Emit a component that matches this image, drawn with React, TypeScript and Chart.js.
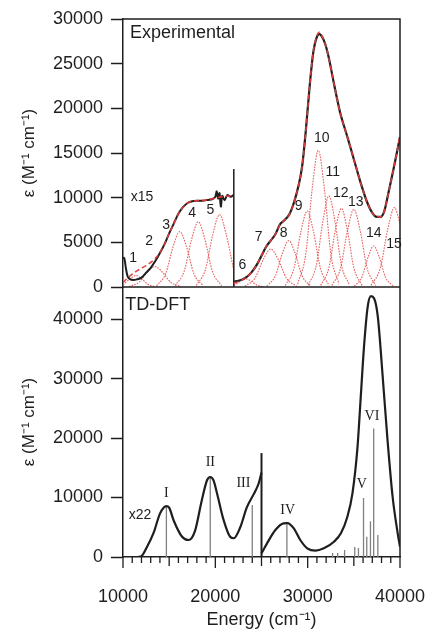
import React, { useEffect, useRef } from "react";
import { Chart, registerables } from "chart.js";

Chart.register(...registerables);

// ---------- Top panel: experimental spectrum ----------
// x15 region (left of the break at 22000)
const expLeftE = [10000, 10150, 10300, 10500, 10800, 11100, 11500, 12000, 12500, 13000, 13500, 14000, 14500, 15000, 15500, 16000, 16500, 17000, 17500, 18000, 18600, 19200, 19700, 20000, 20150, 20300, 20450, 20600, 20750, 21000, 21300, 21650, 22000];
const expLeftV = [3300, 3200, 2200, 1200, 850, 780, 850, 1050, 1600, 2150, 2900, 3800, 4800, 6000, 7100, 8200, 8950, 9400, 9600, 9650, 9650, 9750, 9850, 10100, 10700, 9900, 10500, 9000, 10200, 9700, 10300, 10100, 10300];
const fitLeftE = [10000, 10500, 11000, 11500, 12000, 12500, 13000, 13500, 14000, 14500, 15000, 15500, 16000, 16500, 17000, 17500, 18000, 18600, 19200, 19800, 20400, 21000, 21600, 22000];
const fitLeftV = [500, 1000, 1450, 1800, 2100, 2400, 2750, 3200, 3850, 4800, 6000, 7100, 8200, 8950, 9400, 9600, 9650, 9700, 9750, 9900, 10050, 10150, 10200, 10250];
// unscaled region
const expRightE = [22000, 22500, 23000, 23500, 24000, 24500, 25000, 25500, 26000, 26500, 27000, 27500, 28000, 28500, 29000, 29400, 29800, 30200, 30600, 31000, 31250, 31500, 31900, 32300, 32800, 33500, 34300, 35000, 35700, 36400, 37000, 37500, 37900, 38300, 38700, 39300, 40000];
const expRightV = [600, 700, 880, 1200, 1750, 2500, 3500, 4500, 5200, 5900, 7000, 7500, 8100, 9400, 11300, 13500, 17500, 22300, 26200, 28000, 28300, 28100, 27200, 25600, 23000, 19600, 16800, 14300, 11800, 9600, 8300, 7850, 7850, 8500, 10300, 13200, 16800];
const fitRightE = [22000, 22500, 23000, 23500, 24000, 24500, 25000, 25500, 26000, 26500, 27000, 27500, 28000, 28500, 29000, 29400, 29800, 30200, 30600, 31000, 31250, 31500, 31900, 32300, 32800, 33500, 34300, 35000, 35700, 36400, 37000, 37500, 37900, 38300, 38700, 39300, 40000];
const fitRightV = [400, 600, 850, 1200, 1750, 2500, 3500, 4500, 5200, 5900, 7000, 7500, 8100, 9400, 11300, 13500, 17500, 22300, 26300, 28100, 28500, 28200, 27200, 25600, 23000, 19600, 16800, 14300, 11800, 9600, 8300, 7850, 7850, 8500, 10300, 13200, 16900];
// fitted components 1..15
const bandE = [
  [10000, 10800, 11400, 12000, 12675, 13500],
  [10650, 11750, 12650, 13450, 14250, 15150, 16250],
  [13630, 14620, 15430, 16150, 16870, 17680, 18670],
  [15630, 16620, 17430, 18150, 18870, 19680, 20670],
  [17930, 18920, 19730, 20450, 21170, 22000],
  [22000, 22740, 23300, 23860, 24490, 25260],
  [23200, 24300, 25200, 26000, 26800, 27700, 28800],
  [25570, 26505, 27270, 27950, 28630, 29395, 30330],
  [27570, 28505, 29270, 29950, 30630, 31395, 32330],
  [28910, 29790, 30510, 31150, 31790, 32510, 33390],
  [30060, 30940, 31660, 32300, 32940, 33660, 34540],
  [31410, 32290, 33010, 33650, 34290, 35010, 35890],
  [32620, 33555, 34320, 35000, 35680, 36445, 37380],
  [35050, 35875, 36550, 37150, 37750, 38425, 39250],
  [36880, 37870, 38680, 39400, 40000],
];
const bandV = [
  [230, 950, 1300, 950, 310, 26],
  [46, 550, 1680, 2300, 1680, 550, 46],
  [124, 1490, 4530, 6200, 4530, 1490, 124],
  [146, 1750, 5330, 7300, 5330, 1750, 146],
  [162, 1940, 5910, 8100, 5910, 1840],
  [160, 660, 900, 660, 215, 18],
  [85, 1000, 3100, 4250, 3100, 1000, 85],
  [104, 1250, 3800, 5200, 3800, 1250, 104],
  [170, 2040, 6200, 8500, 6200, 2040, 170],
  [306, 3670, 11170, 15300, 11170, 3670, 306],
  [204, 2450, 7450, 10200, 7450, 2450, 204],
  [176, 2110, 6420, 8800, 6420, 2110, 176],
  [174, 2090, 6350, 8700, 6350, 2090, 174],
  [92, 1100, 3360, 4600, 3360, 1100, 92],
  [178, 2140, 6500, 8900, 7120],
];
const bandLabelText = ["1", "2", "3", "4", "5", "6", "7", "8", "9", "10", "11", "12", "13", "14", "15"];
const bandLabelE = [11090, 12830, 14680, 17500, 19460, 22940, 24680, 27400, 29030, 31530, 32720, 33590, 35220, 37170, 39350];
const bandLabelV = [3250, 5150, 6940, 8280, 8620, 2460, 5600, 6050, 9070, 16680, 12870, 10520, 9510, 6050, 4810];
const topBreakE = [22000, 22000];
const topBreakV = [0, 13200];

// ---------- Bottom panel: TD-DFT ----------
const dftLeftE = [10000, 11500, 12000, 12600, 13300, 14000, 14400, 14700, 15000, 15500, 16400, 17100, 17800, 18500, 19100, 19450, 19800, 20200, 20900, 21600, 22000, 22700, 23400, 24200, 24700, 25000];
const dftLeftV = [0, 0, 150, 1700, 4000, 7300, 8300, 8570, 8300, 6100, 3400, 2860, 4400, 9300, 12900, 13450, 12900, 10600, 6200, 3400, 3150, 5000, 8300, 10700, 12400, 14200];
const dftRightE = [25000, 25600, 26500, 27400, 27800, 28500, 29200, 29950, 30850, 31750, 32850, 33600, 34300, 34850, 35400, 35750, 36100, 36500, 36850, 37200, 37600, 38100, 38650, 39200, 39750, 40000];
const dftRightV = [620, 2300, 4540, 5660, 5700, 4820, 2860, 1460, 1060, 1460, 2570, 3980, 6770, 10700, 18530, 26930, 35330, 42050, 43850, 43460, 40370, 30860, 19660, 10130, 3980, 1730];
const stickE = [14700, 19450, 24000, 27750, 32700, 33250, 34000, 35100, 35500, 36050, 36400, 36800, 37150, 37600];
const stickV = [8570, 13450, 8740, 5500, 670, 670, 1180, 1700, 1500, 9900, 3400, 6000, 21600, 3700];
const romanText = ["I", "II", "III", "IV", "V", "VI"];
const romanE = [14680, 19460, 23040, 27830, 35870, 36960];
const romanV = [10750, 15960, 12430, 7900, 12260, 23690];
const botBreakE = [25000, 25000];
const botBreakV = [0, 17470];

// axis ranges / tick values
const xMin = 10000, xMax = 40000, xMinorStep = 1000;
const xTickValues = [10000, 20000, 30000, 40000];
const topMax = 30000;
const topTickValues = [0, 5000, 10000, 15000, 20000, 25000, 30000];
const botMax = 45400;
const botTickValues = [0, 10000, 20000, 30000, 40000];

const INK = "#1e1e1e";
const SANS = "'Liberation Sans', Arial, sans-serif";
const SERIF = "'Liberation Serif', 'Times New Roman', serif";

const pts = (E: number[], V: number[]) => E.map((e, i) => ({ x: e, y: V[i] }));

const annotPlugin = {
  id: "annot",
  afterDraw(chart: any) {
    const { ctx } = chart;
    const x = chart.scales.x, yt = chart.scales.yTop, yb = chart.scales.yBot;
    ctx.save();
    ctx.strokeStyle = INK;
    ctx.lineWidth = 1.5;
    ctx.beginPath();
    ctx.moveTo(x.left, yt.top);
    ctx.lineTo(x.right, yt.top);
    ctx.lineTo(x.right, yb.bottom);
    ctx.moveTo(x.left, yt.bottom);
    ctx.lineTo(x.right, yt.bottom);
    ctx.stroke();
    // x ticks (outward)
    ctx.lineWidth = 1.3;
    ctx.beginPath();
    for (let v = xMin; v <= xMax; v += xMinorStep) {
      const px = x.getPixelForValue(v);
      const len = v % 10000 === 0 ? 11 : v % 5000 === 0 ? 9 : 6;
      ctx.moveTo(px, yb.bottom);
      ctx.lineTo(px, yb.bottom + len);
    }
    ctx.stroke();
    // texts
    ctx.fillStyle = INK;
    ctx.textBaseline = "middle";
    ctx.textAlign = "left";
    ctx.font = `18px ${SANS}`;
    ctx.fillText("Experimental", x.getPixelForValue(10760), yt.getPixelForValue(28430));
    ctx.fillText("TD-DFT", x.getPixelForValue(10250), yb.getPixelForValue(42340));
    ctx.textAlign = "center";
    ctx.font = `14px ${SANS}`;
    ctx.fillText("x15", x.getPixelForValue(12070), yt.getPixelForValue(10075));
    ctx.fillText("x22", x.getPixelForValue(11850), yb.getPixelForValue(7060));
    bandLabelText.forEach((t, i) => {
      ctx.fillText(t, x.getPixelForValue(bandLabelE[i]), yt.getPixelForValue(bandLabelV[i]));
    });
    ctx.font = `14px ${SERIF}`;
    romanText.forEach((t, i) => {
      ctx.fillText(t, x.getPixelForValue(romanE[i]), yb.getPixelForValue(romanV[i]));
    });
    ctx.restore();
  },
};

export default function App() {
  const ref = useRef<HTMLCanvasElement>(null);
  useEffect(() => {
    const red = "rgba(226,60,60,0.95)";
    const bandSets = bandE.map((E, i) => ({
      data: pts(E, bandV[i]),
      yAxisID: "yTop",
      borderColor: "rgba(228,80,80,0.9)",
      borderWidth: 1.1,
      borderDash: [1.6, 1.2],
      pointRadius: 0,
      cubicInterpolationMode: "monotone",
      fill: false,
    }));
    const sticks: any[] = [];
    stickE.forEach((e, i) => {
      sticks.push({ x: e, y: 0 }, { x: e, y: stickV[i] }, { x: e, y: null });
    });
    const line = (data: any, yAxisID: string, extra: any) => ({
      data,
      yAxisID,
      pointRadius: 0,
      fill: false,
      ...extra,
    });
    const setTicks = (vals: number[]) => (s: any) => {
      s.ticks = vals.map((v) => ({ value: v }));
    };
    const fitY = (s: any) => {
      s.width = 123;
      s.paddingTop = 0;
      s.paddingBottom = 0;
    };
    const chart = new Chart(ref.current!, {
      type: "line",
      data: {
        datasets: [
          line(pts(fitLeftE, fitLeftV), "yTop", { borderColor: red, borderWidth: 1.6, borderDash: [5, 3], cubicInterpolationMode: "monotone" }),
          line(pts(fitRightE, fitRightV), "yTop", { borderColor: red, borderWidth: 1.6, borderDash: [5, 3], cubicInterpolationMode: "monotone" }),
          line(pts(expLeftE, expLeftV), "yTop", { borderColor: INK, borderWidth: 2, tension: 0.3 }),
          line(pts(expRightE, expRightV), "yTop", { borderColor: INK, borderWidth: 2.2, cubicInterpolationMode: "monotone" }),
          line(pts(topBreakE, topBreakV), "yTop", { borderColor: INK, borderWidth: 1.5 }),
          ...bandSets,
          line(pts(dftLeftE, dftLeftV), "yBot", { borderColor: INK, borderWidth: 2.2, cubicInterpolationMode: "monotone" }),
          line(pts(dftRightE, dftRightV), "yBot", { borderColor: INK, borderWidth: 2.2, cubicInterpolationMode: "monotone" }),
          line(pts(botBreakE, botBreakV), "yBot", { borderColor: INK, borderWidth: 2 }),
          line(sticks, "yBot", { borderColor: "#808080", borderWidth: 1.3, spanGaps: false, tension: 0 }),
        ] as any,
      },
      options: {
        animation: false,
        responsive: false,
        devicePixelRatio: 1,
        layout: { padding: { left: 0, right: 27, top: 19, bottom: 0 } },
        plugins: { legend: { display: false }, tooltip: { enabled: false } },
        scales: {
          x: {
            type: "linear",
            position: "bottom",
            min: xMin,
            max: xMax,
            grid: { display: false },
            border: { display: true, color: INK, width: 1.5 },
            ticks: {
              color: INK,
              font: { family: SANS, size: 18 },
              padding: 21,
              maxRotation: 0,
              autoSkip: false,
              callback: (v: any) => String(v),
            },
            afterBuildTicks: setTicks(xTickValues),
            title: {
              display: true,
              text: "Energy (cm⁻¹)",
              color: INK,
              font: { family: SANS, size: 18 },
              padding: { top: 0, bottom: 0 },
            },
            afterFit: (s: any) => {
              s.height = 74;
              s.paddingLeft = 0;
              s.paddingRight = 0;
            },
          },
          yBot: {
            type: "linear",
            position: "left",
            stack: "panels",
            stackWeight: 270,
            min: 0,
            max: botMax,
            grid: { drawOnChartArea: false, drawTicks: true, tickLength: 12, color: INK, tickWidth: 1.5 },
            border: { display: true, color: INK, width: 1.5 },
            ticks: { color: INK, font: { family: SANS, size: 18 }, padding: 8, autoSkip: false, callback: (v: any) => String(v) },
            afterBuildTicks: setTicks(botTickValues),
            title: { display: true, text: "ε (M⁻¹ cm⁻¹)", color: INK, font: { family: SANS, size: 17 }, padding: { top: 19, bottom: 0 } },
            afterFit: fitY,
          },
          yTop: {
            type: "linear",
            position: "left",
            stack: "panels",
            stackWeight: 268,
            min: 0,
            max: topMax,
            grid: { drawOnChartArea: false, drawTicks: true, tickLength: 12, color: INK, tickWidth: 1.5 },
            border: { display: true, color: INK, width: 1.5 },
            ticks: { color: INK, font: { family: SANS, size: 18 }, padding: 8, autoSkip: false, callback: (v: any) => String(v) },
            afterBuildTicks: setTicks(topTickValues),
            title: { display: true, text: "ε (M⁻¹ cm⁻¹)", color: INK, font: { family: SANS, size: 17 }, padding: { top: 19, bottom: 0 } },
            afterFit: fitY,
          },
        },
      } as any,
      plugins: [annotPlugin],
    });
    return () => chart.destroy();
  }, []);
  return (
    <div style={{ position: "absolute", left: 0, top: 0, width: 427, height: 631, background: "#fff" }}>
      <canvas ref={ref} width={427} height={631} style={{ display: "block", width: 427, height: 631 }} />
    </div>
  );
}
